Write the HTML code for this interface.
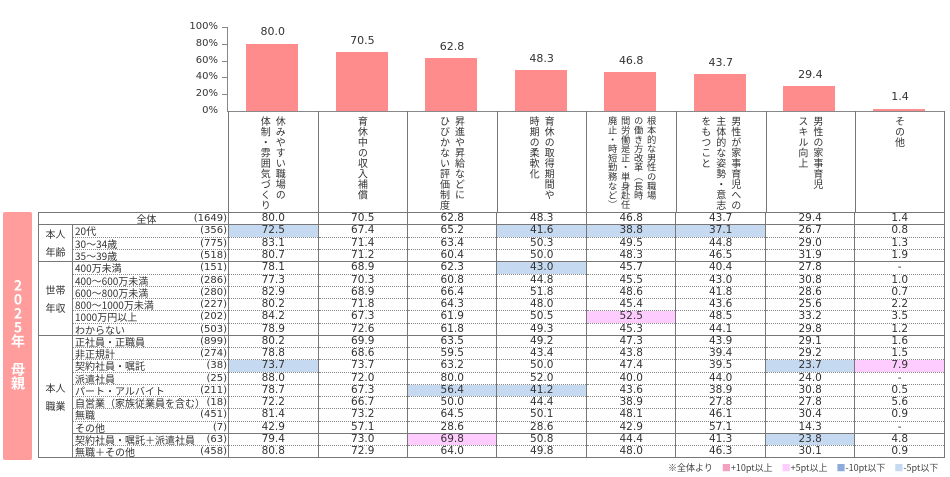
<!DOCTYPE html>
<html><head><meta charset="utf-8">
<style>
*{margin:0;padding:0;box-sizing:border-box}
body{width:950px;height:477px;background:#fff;position:relative;overflow:hidden;font-family:"DejaVu Sans","Noto Sans CJK JP",sans-serif;color:#333}
.abs{position:absolute}
.tick{position:absolute;left:180px;width:38px;text-align:right;font-size:10px;line-height:10px}
.bar{position:absolute;width:52px;background:#ff8c8c}
.bv{position:absolute;width:89.6px;text-align:center;font-size:11px}
.hc{position:absolute;top:111px;height:101px;border-left:1px solid #777;display:flex;justify-content:center;align-items:flex-start;padding-top:5px}
.hc div{writing-mode:vertical-rl;font-family:"Noto Sans CJK JP",sans-serif;font-size:10px;line-height:15px;letter-spacing:0.5px;color:#333;white-space:nowrap}
table{position:absolute;left:38px;top:212px;border-collapse:collapse;table-layout:fixed;width:907px}
td{height:12.25px;font-size:10.5px;line-height:11px;padding:0;border-left:1px solid #777;border-right:1px solid #777;border-bottom:1px dotted #888;text-align:center;white-space:nowrap;overflow:hidden}
td.g{font-family:"Noto Sans CJK JP",sans-serif;font-size:10px;line-height:18px;border-bottom:1px solid #777}
td.l{text-align:left;font-family:"Noto Sans CJK JP",sans-serif;font-size:10px;padding-left:2px}
td.l span{float:right;font-family:"DejaVu Sans",sans-serif;padding-right:1px}
tr.e td{border-bottom:1px solid #777}
.b{background:#c5d9f1}.p{background:#ffccff}
</style></head><body>
<div class="tick" style="top:22px">100%</div>
<div class="tick" style="top:39px">80%</div>
<div class="tick" style="top:56px">60%</div>
<div class="tick" style="top:72px">40%</div>
<div class="tick" style="top:89px">20%</div>
<div class="tick" style="top:106px">0%</div>
<div class="abs" style="left:227px;top:27px;width:1px;height:85px;background:#888"></div>
<div class="abs" style="left:222px;top:27px;width:5px;height:1px;background:#888"></div>
<div class="abs" style="left:222px;top:44px;width:5px;height:1px;background:#888"></div>
<div class="abs" style="left:222px;top:61px;width:5px;height:1px;background:#888"></div>
<div class="abs" style="left:222px;top:77px;width:5px;height:1px;background:#888"></div>
<div class="abs" style="left:222px;top:94px;width:5px;height:1px;background:#888"></div>
<div class="abs" style="left:227px;top:111px;width:718px;height:1px;background:#888"></div>
<div class="bar" style="left:246px;top:44px;height:67px"></div>
<div class="bar" style="left:336px;top:52px;height:59px"></div>
<div class="bar" style="left:425px;top:58px;height:53px"></div>
<div class="bar" style="left:515px;top:70px;height:41px"></div>
<div class="bar" style="left:604px;top:72px;height:39px"></div>
<div class="bar" style="left:694px;top:74px;height:37px"></div>
<div class="bar" style="left:783px;top:86px;height:25px"></div>
<div class="bar" style="left:873px;top:109px;height:2px"></div>
<div class="bv" style="left:228px;top:25px">80.0</div>
<div class="bv" style="left:317.6px;top:34px">70.5</div>
<div class="bv" style="left:407.2px;top:40px">62.8</div>
<div class="bv" style="left:496.8px;top:52px">48.3</div>
<div class="bv" style="left:586.4px;top:54px">46.8</div>
<div class="bv" style="left:676px;top:56px">43.7</div>
<div class="bv" style="left:765.6px;top:68px">29.4</div>
<div class="bv" style="left:855.2px;top:90px">1.4</div>
<div class="hc" style="left:228px;width:89.6px"><div>休みやすい職場の<br>体制・雰囲気づくり</div></div>
<div class="hc" style="left:317.6px;width:89.6px"><div>育休中の収入補償</div></div>
<div class="hc" style="left:407.2px;width:89.6px"><div>昇進や昇給などに<br>ひびかない評価制度</div></div>
<div class="hc" style="left:496.8px;width:89.6px"><div>育休の取得期間や<br>時期の柔軟化</div></div>
<div class="hc" style="left:586.4px;width:89.6px"><div style="font-size:9.3px;line-height:13px;letter-spacing:0">根本的な男性の職場<br>の働き方改革（長時<br>間労働是正・単身赴任<br>廃止・時短勤務など）</div></div>
<div class="hc" style="left:676px;width:89.6px"><div>男性が家事育児への<br>主体的な姿勢・意志<br>をもつこと</div></div>
<div class="hc" style="left:765.6px;width:89.6px"><div>男性の家事育児<br>スキル向上</div></div>
<div class="hc" style="left:855.2px;width:89.6px;border-right:1px solid #777"><div>その他</div></div>
<div class="abs" style="left:3px;top:212px;width:29px;height:248px;background:#ff9c9c;border-radius:2px;color:#fff;font-weight:bold;font-family:'Noto Sans CJK JP',sans-serif;font-size:14px;writing-mode:vertical-rl;text-orientation:upright;padding-top:66px;line-height:29px">2025年 母親</div>
<table>
<colgroup><col style="width:34px"><col style="width:156px"><col><col><col><col><col><col><col><col></colgroup>
<tr class="e"><td colspan="2" class="l" style="border-top:1px solid #777;text-align:center;padding-left:60px">全体<span>(1649)</span></td><td style="border-top:1px solid #777">80.0</td><td style="border-top:1px solid #777">70.5</td><td style="border-top:1px solid #777">62.8</td><td style="border-top:1px solid #777">48.3</td><td style="border-top:1px solid #777">46.8</td><td style="border-top:1px solid #777">43.7</td><td style="border-top:1px solid #777">29.4</td><td style="border-top:1px solid #777">1.4</td></tr>
<tr><td class="g" rowspan="3">本人<br>年齢</td><td class="l">20代<span>(356)</span></td><td class="b">72.5</td><td>67.4</td><td>65.2</td><td class="b">41.6</td><td class="b">38.8</td><td class="b">37.1</td><td>26.7</td><td>0.8</td></tr>
<tr><td class="l">30～34歳<span>(775)</span></td><td>83.1</td><td>71.4</td><td>63.4</td><td>50.3</td><td>49.5</td><td>44.8</td><td>29.0</td><td>1.3</td></tr>
<tr class="e"><td class="l">35～39歳<span>(518)</span></td><td>80.7</td><td>71.2</td><td>60.4</td><td>50.0</td><td>48.3</td><td>46.5</td><td>31.9</td><td>1.9</td></tr>
<tr><td class="g" rowspan="6">世帯<br>年収</td><td class="l">400万未満<span>(151)</span></td><td>78.1</td><td>68.9</td><td>62.3</td><td class="b">43.0</td><td>45.7</td><td>40.4</td><td>27.8</td><td>-</td></tr>
<tr><td class="l">400～600万未満<span>(286)</span></td><td>77.3</td><td>70.3</td><td>60.8</td><td>44.8</td><td>45.5</td><td>43.0</td><td>30.8</td><td>1.0</td></tr>
<tr><td class="l">600～800万未満<span>(280)</span></td><td>82.9</td><td>68.9</td><td>66.4</td><td>51.8</td><td>48.6</td><td>41.8</td><td>28.6</td><td>0.7</td></tr>
<tr><td class="l">800～1000万未満<span>(227)</span></td><td>80.2</td><td>71.8</td><td>64.3</td><td>48.0</td><td>45.4</td><td>43.6</td><td>25.6</td><td>2.2</td></tr>
<tr><td class="l">1000万円以上<span>(202)</span></td><td>84.2</td><td>67.3</td><td>61.9</td><td>50.5</td><td class="p">52.5</td><td>48.5</td><td>33.2</td><td>3.5</td></tr>
<tr class="e"><td class="l">わからない<span>(503)</span></td><td>78.9</td><td>72.6</td><td>61.8</td><td>49.3</td><td>45.3</td><td>44.1</td><td>29.8</td><td>1.2</td></tr>
<tr><td class="g" rowspan="10">本人<br>職業</td><td class="l">正社員・正職員<span>(899)</span></td><td>80.2</td><td>69.9</td><td>63.5</td><td>49.2</td><td>47.3</td><td>43.9</td><td>29.1</td><td>1.6</td></tr>
<tr><td class="l">非正規計<span>(274)</span></td><td>78.8</td><td>68.6</td><td>59.5</td><td>43.4</td><td>43.8</td><td>39.4</td><td>29.2</td><td>1.5</td></tr>
<tr><td class="l">契約社員・嘱託<span>(38)</span></td><td class="b">73.7</td><td>73.7</td><td>63.2</td><td>50.0</td><td>47.4</td><td>39.5</td><td class="b">23.7</td><td class="p">7.9</td></tr>
<tr><td class="l">派遣社員<span>(25)</span></td><td>88.0</td><td>72.0</td><td>80.0</td><td>52.0</td><td>40.0</td><td>44.0</td><td>24.0</td><td>-</td></tr>
<tr><td class="l">パート・アルバイト<span>(211)</span></td><td>78.7</td><td>67.3</td><td class="b">56.4</td><td class="b">41.2</td><td>43.6</td><td>38.9</td><td>30.8</td><td>0.5</td></tr>
<tr><td class="l">自営業（家族従業員を含む）<span>(18)</span></td><td>72.2</td><td>66.7</td><td>50.0</td><td>44.4</td><td>38.9</td><td>27.8</td><td>27.8</td><td>5.6</td></tr>
<tr><td class="l">無職<span>(451)</span></td><td>81.4</td><td>73.2</td><td>64.5</td><td>50.1</td><td>48.1</td><td>46.1</td><td>30.4</td><td>0.9</td></tr>
<tr class="e"><td class="l">その他<span>(7)</span></td><td>42.9</td><td>57.1</td><td>28.6</td><td>28.6</td><td>42.9</td><td>57.1</td><td>14.3</td><td>-</td></tr>
<tr><td class="l">契約社員・嘱託＋派遣社員<span>(63)</span></td><td>79.4</td><td>73.0</td><td class="p">69.8</td><td>50.8</td><td>44.4</td><td>41.3</td><td class="b">23.8</td><td>4.8</td></tr>
<tr class="e"><td class="l">無職＋その他<span>(458)</span></td><td>80.8</td><td>72.9</td><td>64.0</td><td>49.8</td><td>48.0</td><td>46.3</td><td>30.1</td><td>0.9</td></tr>
</table>
<div class="abs" style="left:668px;top:461px;font-family:'Noto Sans CJK JP',sans-serif;font-size:9px;color:#444;white-space:nowrap">※全体より　<span style="color:#f4a0bf">■</span>+10pt以上　<span style="color:#ffccff">■</span>+5pt以上　<span style="color:#8eaadb">■</span>-10pt以下　<span style="color:#c5d9f1">■</span>-5pt以下</div>
</body></html>
